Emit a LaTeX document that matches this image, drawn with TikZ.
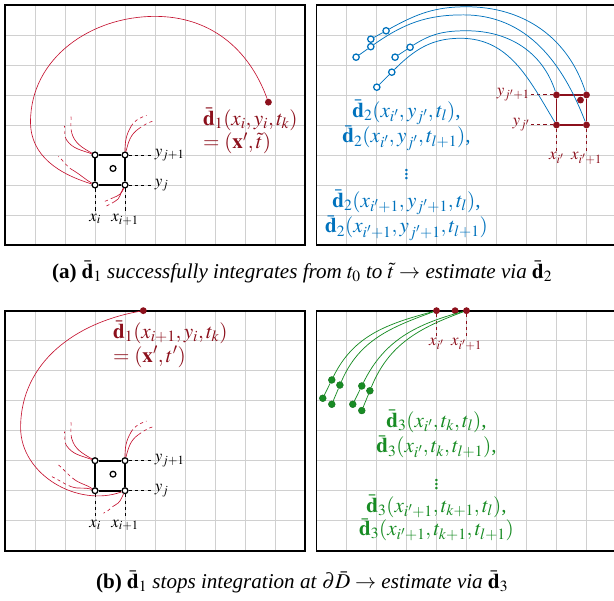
\documentclass[tikz,border=0pt]{standalone}
\usepackage{mathptmx}
\usepackage[no-math]{fontspec}
\setmainfont{Liberation Serif}
\usetikzlibrary{positioning}

\definecolor{dred}{RGB}{140,16,28}
\definecolor{tred}{RGB}{196,18,48}
\definecolor{dblue}{RGB}{0,114,189}
\definecolor{dgreen}{RGB}{24,140,36}
\definecolor{gridgray}{RGB}{208,208,208}

\tikzset{
  panel/.style={line width=1.6pt},
  gridline/.style={gridgray, line width=0.7pt},
  cellpt/.style={circle, draw=black, fill=white, line width=1.2pt, inner sep=0pt, minimum size=5.5pt},
  hit/.style={circle, fill=dred, inner sep=0pt, minimum size=6.5pt},
  bseed/.style={circle, draw=dblue, fill=white, line width=1.2pt, inner sep=0pt, minimum size=6pt},
  gseed/.style={circle, draw=dgreen!80!black, fill=dgreen, inner sep=0pt, minimum size=6.5pt},
  traj/.style={tred, line width=0.6pt},
  bflow/.style={dblue, line width=0.7pt},
  gflow/.style={dgreen, line width=0.7pt},
  guide/.style={dashed, line width=0.6pt},
  lbl/.style={font=\fontsize{16}{19}\selectfont, inner sep=1pt},
  eqn/.style={font=\fontsize{20}{22.5}\selectfont, align=left, inner sep=0pt},
  capt/.style={font=\fontsize{20}{24}\selectfont},
}

\begin{document}
\begin{tikzpicture}
  \useasboundingbox (0,0) rectangle (20.467,20.033);

  % (a) left: d1 reaches t~
  \begin{scope}[shift={(0.167,11.867)}]
    \draw[gridline] (0,0) grid (10,8);
    \draw[panel] (0,0) rectangle (10,8);
    \node[cellpt] (a-ll) at (3,2) {};
    \node[cellpt] (a-lr) at (4,2) {};
    \node[cellpt] (a-ul) at (3,3) {};
    \node[cellpt] (a-ur) at (4,3) {};
    \node[cellpt] (a-c) at (3.6,2.55) {};
    \node[hit] (a-end) at (8.78,4.76) {};
    \node[lbl, anchor=west] (a-yj1) at (4.95,3) {$y_{j+1}$};
    \node[lbl, anchor=west] (a-yj) at (4.95,2) {$y_j$};
    \node[lbl, anchor=north] (a-xi) at (3,1.07) {$x_i$};
    \node[lbl, anchor=north] (a-xi1) at (4,1.07) {$x_{i+1}$};
    \draw[guide] (a-ur) -- (a-yj1);
    \draw[guide] (a-lr) -- (a-yj);
    \draw[guide] (a-ll) -- (a-xi);
    \draw[guide] (a-lr) -- (a-xi1);
    \draw[line width=1.6pt] (a-ll) -- (a-lr) -- (a-ur) -- (a-ul) -- (a-ll);
    % short trajectories
    \draw[traj] (a-ul) to[out=150,in=-75] (2.22,3.75);
    \draw[traj, dashed] (2.22,3.75) to[out=105,in=-85] (2.2,4.35);
    \draw[traj] (a-ul) to[out=160,in=-55] (2.05,3.5);
    \draw[traj, dashed] (2.05,3.5) to[out=125,in=-75] (1.98,3.97);
    \draw[traj] (a-ur) to[out=90,in=240] (4.2,3.95);
    \draw[traj, dashed] (4.2,3.95) to[out=60,in=200] (4.72,4.32);
    \draw[traj] (a-ur) to[out=75,in=215] (4.45,3.87);
    \draw[traj, dashed] (4.45,3.87) to[out=35,in=195] (5.0,4.15);
    \draw[traj] (a-ll) to[out=150,in=-30] (2.25,2.5);
    \draw[traj, dashed] (2.25,2.5) to[out=150,in=-40] (1.78,2.95);
    \draw[traj] (a-lr) to[out=250,in=20] (3.62,1.58);
    \draw[traj, dashed] (3.62,1.58) to[out=200,in=15] (3.28,1.44);
    \draw[traj] (a-lr) to[out=240,in=25] (3.66,1.45);
    \draw[traj, dashed] (3.66,1.45) to[out=205,in=20] (3.38,1.3);
    % d1 trajectory
    \draw[traj] (a-ll) to[out=163,in=-90] (0.85,4.1) to[out=90,in=180] (5,7.62) to[out=0,in=110] (a-end);
    \node[eqn, anchor=west, dred] (a-eq) at (6.6,3.8) {$\bar{\mathbf{d}}_1(x_i,y_i,t_k)$\\$=(\mathbf{x}',\tilde{t})$};
  \end{scope}

  % (a) right: estimate via d2
  \begin{scope}[shift={(10.55,11.867)}]
    \draw[gridline] (0,0) grid (10,8);
    \draw[panel] (0,0) rectangle (10,8);
    \node[hit] (c-ll) at (8,4) {};
    \node[hit] (c-lr) at (9,4) {};
    \node[hit] (c-ul) at (8,5) {};
    \node[hit] (c-ur) at (9,5) {};
    \node[hit] (c-end) at (8.8,4.83) {};
    \node[lbl, dred, anchor=east] (c-yj1) at (7.15,5) {$y_{j'+1}$};
    \node[lbl, dred, anchor=east] (c-yj) at (7.15,4) {$y_{j'}$};
    \node[lbl, dred, anchor=north] (c-xi) at (8,3.12) {$x_{i'}$};
    \node[lbl, dred, anchor=north] (c-xi1) at (9,3.12) {$x_{i'+1}$};
    \draw[guide, dred, line width=0.9pt] (c-ul) -- (c-yj1);
    \draw[guide, dred, line width=0.9pt] (c-ll) -- (c-yj);
    \draw[guide, dred, line width=0.9pt] (c-ll) -- (c-xi);
    \draw[guide, dred, line width=0.9pt] (c-lr) -- (c-xi1);
    \draw[dred, line width=1.6pt] (c-ll) -- (c-lr) -- (c-ur) -- (c-ul) -- (c-ll);
    % backward seeds
    \node[bseed] (s1a) at (2.32,7.14) {};
    \node[bseed] (s1b) at (1.81,6.86) {};
    \node[bseed] (s2a) at (1.81,6.61) {};
    \node[bseed] (s2b) at (1.32,6.26) {};
    \node[bseed] (s3a) at (3.12,6.59) {};
    \node[bseed] (s3b) at (2.62,6.26) {};
    \node[bseed] (s4a) at (2.51,5.76) {};
    \node[bseed] (s4b) at (2.01,5.26) {};
    \draw[bflow] (s1b) -- (s1a);
    \draw[bflow] (s2b) -- (s2a);
    \draw[bflow] (s3b) -- (s3a);
    \draw[bflow] (s4b) -- (s4a);
    \draw[bflow] (s1a) to[out=29,in=180] (5.0,7.94) to[out=0,in=108] (c-ur);
    \draw[bflow] (s2a) to[out=35,in=180] (4.9,7.67) to[out=0,in=111] (c-lr);
    \draw[bflow] (s3a) to[out=33,in=180] (5.0,7.14) to[out=0,in=108] (c-ul);
    \draw[bflow] (s4a) to[out=45,in=180] (4.8,6.89) to[out=0,in=121] (c-ll);
    \node[eqn, align=center, dblue] (c-eq1) at (3,4.0) {$\bar{\mathbf{d}}_2(x_{i'},y_{j'},t_l)$,\\$\bar{\mathbf{d}}_2(x_{i'},y_{j'},t_{l+1})$,};
    \node[eqn, dblue] (c-dots) at (3,2.45) {$\vdots$};
    \node[eqn, align=center, dblue] (c-eq2) at (3,1.0) {$\bar{\mathbf{d}}_2(x_{i'+1},y_{j'+1},t_l)$,\\$\bar{\mathbf{d}}_2(x_{i'+1},y_{j'+1},t_{l+1})$};
  \end{scope}

  \node[capt] (cap-a) at (10.07,10.97) {\textbf{(a)} $\bar{\mathbf{d}}_1$ \textit{successfully integrates from} $t_0$ \textit{to} $\tilde{t}\rightarrow$ \textit{estimate via} $\bar{\mathbf{d}}_2$};

  % (b) left: d1 leaves the domain
  \begin{scope}[shift={(0.167,1.677)}]
    \draw[gridline] (0,0) grid (10,8);
    \draw[panel] (0,0) rectangle (10,8);
    \node[cellpt] (b-ll) at (3,2) {};
    \node[cellpt] (b-lr) at (4,2) {};
    \node[cellpt] (b-ul) at (3,3) {};
    \node[cellpt] (b-ur) at (4,3) {};
    \node[cellpt] (b-c) at (3.6,2.55) {};
    \node[hit] (b-end) at (4.61,8) {};
    \node[lbl, anchor=west] (b-yj1) at (4.95,3) {$y_{j+1}$};
    \node[lbl, anchor=west] (b-yj) at (4.95,2) {$y_j$};
    \node[lbl, anchor=north] (b-xi) at (3,1.07) {$x_i$};
    \node[lbl, anchor=north] (b-xi1) at (4,1.07) {$x_{i+1}$};
    \draw[guide] (b-ur) -- (b-yj1);
    \draw[guide] (b-lr) -- (b-yj);
    \draw[guide] (b-ll) -- (b-xi);
    \draw[guide] (b-lr) -- (b-xi1);
    \draw[line width=1.6pt] (b-ll) -- (b-lr) -- (b-ur) -- (b-ul) -- (b-ll);
    % short trajectories
    \draw[traj] (b-ul) to[out=150,in=-75] (2.22,3.75);
    \draw[traj, dashed] (2.22,3.75) to[out=105,in=-85] (2.2,4.35);
    \draw[traj] (b-ul) to[out=160,in=-55] (2.05,3.5);
    \draw[traj, dashed] (2.05,3.5) to[out=125,in=-75] (1.98,3.97);
    \draw[traj] (b-ur) to[out=90,in=240] (4.2,3.95);
    \draw[traj, dashed] (4.2,3.95) to[out=60,in=200] (4.72,4.32);
    \draw[traj] (b-ur) to[out=75,in=215] (4.45,3.87);
    \draw[traj, dashed] (4.45,3.87) to[out=35,in=195] (5.0,4.15);
    \draw[traj] (b-ll) to[out=145,in=-35] (2.33,2.36);
    \draw[traj, dashed] (2.33,2.36) to[out=145,in=-40] (1.78,2.86);
    \draw[traj] (b-ll) to[out=160,in=-20] (2.22,2.13);
    \draw[traj, dashed] (2.22,2.13) to[out=160,in=-25] (1.56,2.47);
    \draw[traj] (b-lr) to[out=245,in=25] (3.67,1.52);
    \draw[traj, dashed] (3.67,1.52) to[out=205,in=15] (3.28,1.25);
    % d1 trajectory
    \draw[traj] (b-lr) to[out=200,in=-90] (0.52,4.1) to[out=90,in=190] (b-end);
    \node[eqn, anchor=west, dred] (b-eq) at (3.6,6.88) {$\bar{\mathbf{d}}_1(x_{i+1},y_i,t_k)$\\$=(\mathbf{x}',t')$};
  \end{scope}

  % (b) right: estimate via d3
  \begin{scope}[shift={(10.55,1.677)}]
    \draw[gridline] (0,0) grid (10,8);
    \draw[panel] (0,0) rectangle (10,8);
    \node[hit] (d-xi) at (4,8) {};
    \node[hit] (d-end) at (4.62,8) {};
    \node[hit] (d-xi1) at (5,8) {};
    \node[lbl, dred, anchor=north] (d-xil) at (4,7.12) {$x_{i'}$};
    \node[lbl, dred, anchor=north] (d-xi1l) at (5,7.12) {$x_{i'+1}$};
    \draw[guide, dred, line width=0.9pt] (d-xi) -- (d-xil);
    \draw[guide, dred, line width=0.9pt] (d-xi1) -- (d-xi1l);
    % boundary seeds
    \node[gseed] (g1a) at (0.51,5.69) {};
    \node[gseed] (g1b) at (0.21,5.08) {};
    \node[gseed] (g2a) at (0.78,5.52) {};
    \node[gseed] (g2b) at (0.51,4.88) {};
    \node[gseed] (g3a) at (1.51,5.49) {};
    \node[gseed] (g3b) at (1.21,4.88) {};
    \node[gseed] (g4a) at (1.78,5.33) {};
    \node[gseed] (g4b) at (1.51,4.67) {};
    \draw[gflow] (g1b) -- (g1a);
    \draw[gflow] (g2b) -- (g2a);
    \draw[gflow] (g3b) -- (g3a);
    \draw[gflow] (g4b) -- (g4a);
    \draw[gflow] (g1a) to[out=64,in=195] (d-xi);
    \draw[gflow] (g2a) to[out=67,in=200] (d-xi);
    \draw[gflow] (g3a) to[out=64,in=195] (d-xi1);
    \draw[gflow] (g4a) to[out=68,in=200] (d-xi1);
    \node[eqn, align=center, dgreen] (d-eq1) at (4,3.89) {$\bar{\mathbf{d}}_3(x_{i'},t_k,t_l)$,\\[2pt]$\bar{\mathbf{d}}_3(x_{i'},t_k,t_{l+1})$,};
    \node[eqn, dgreen] (d-dots) at (4,2.3) {$\vdots$};
    \node[eqn, align=center, dgreen] (d-eq2) at (4,1.09) {$\bar{\mathbf{d}}_3(x_{i'+1},t_{k+1},t_l)$,\\$\bar{\mathbf{d}}_3(x_{i'+1},t_{k+1},t_{l+1})$};
  \end{scope}

  \node[capt] (cap-b) at (10.07,0.633) {\textbf{(b)} $\bar{\mathbf{d}}_1$ \textit{stops integration at} $\partial\bar{D}\rightarrow$ \textit{estimate via} $\bar{\mathbf{d}}_3$};
\end{tikzpicture}
\end{document}
